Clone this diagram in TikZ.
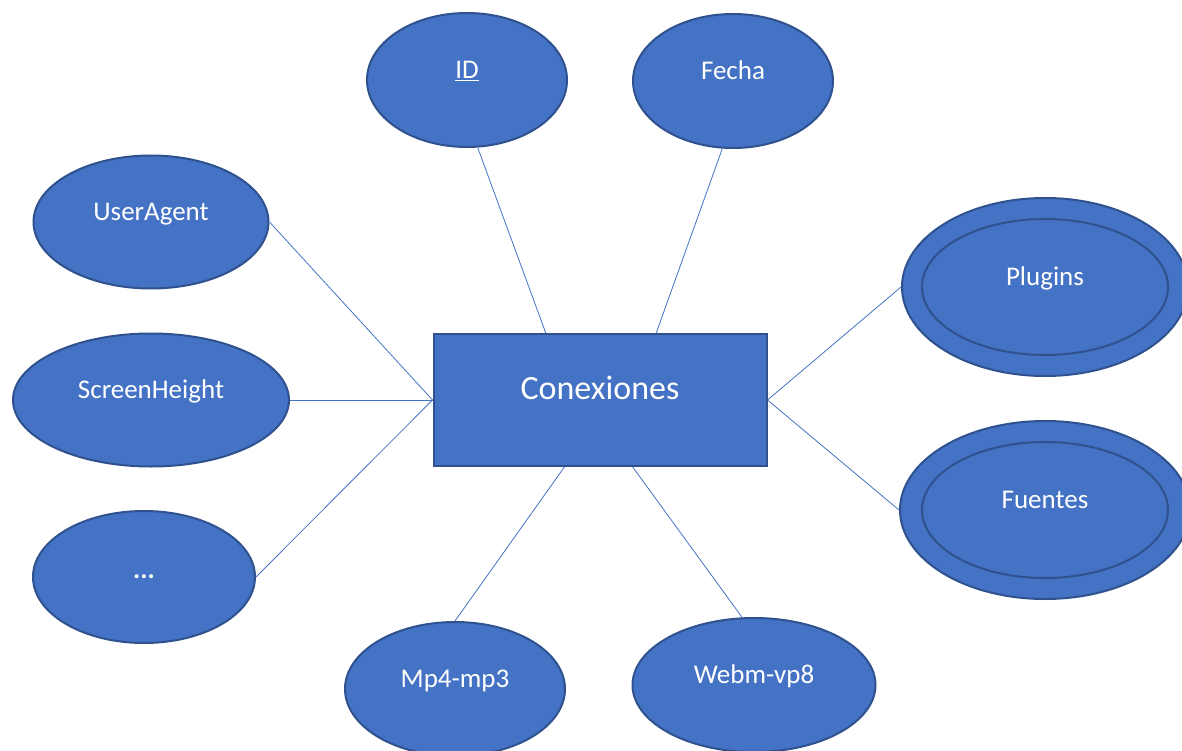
\documentclass[tikz,border=0pt]{standalone}
\usepackage{fontspec}
\setmainfont{Carlito}
\usetikzlibrary{shapes.geometric}
\definecolor{attrblue}{HTML}{4472C4}
\definecolor{attredge}{HTML}{2F528F}

\begin{document}
\begin{tikzpicture}[x=1pt,y=-1pt]
        \tikzstyle{entity}=[rectangle,draw=attredge,line width=2pt,fill=attrblue,minimum width=333pt,minimum height=132pt,inner sep=0pt]
        \tikzstyle{attr}=[ellipse,draw=attredge,line width=2pt,fill=attrblue,inner sep=0pt]
        \tikzstyle{multi}=[attr,path picture={\draw[attredge,line width=2pt] (path picture bounding box.center) ellipse (123pt and 68pt);}]
        \tikzstyle{txt}=[text=white,font=\fontsize{27}{32}\selectfont,text height=19pt,text depth=6pt,yshift=8pt]
        \tikzstyle{ctxt}=[text=white,font=\fontsize{34}{40}\selectfont,text height=24pt,text depth=8pt,yshift=9pt]
        \tikzstyle{link}=[draw=attrblue,line width=0.8pt]
        \useasboundingbox (0,0) rectangle (1182,751);
       \begin{scope}
         \node [entity,label={[ctxt]center:Conexiones}] (con) at (600,400) {};
         % simple attributes
         \node [attr,minimum width=200pt,minimum height=134pt,label={[txt]center:\underline{ID}}] (id) at (467,80) {};
         \node [attr,minimum width=200pt,minimum height=134pt,label={[txt]center:Fecha}] (fecha) at (733,81) {};
         \node [attr,minimum width=235pt,minimum height=133pt,label={[txt]center:UserAgent}] (agent) at (151,222) {};
         \node [attr,minimum width=276pt,minimum height=133pt,label={[txt]center:ScreenHeight}] (height) at (151,400) {};
         \node [attr,minimum width=222pt,minimum height=132pt,label={[txt,yshift=-3pt]center:\textbf{...}}] (more) at (144,577) {};
         \node [attr,minimum width=220pt,minimum height=134pt,label={[txt]center:Mp4-mp3}] (mp4) at (455,689) {};
         \node [attr,minimum width=243pt,minimum height=134pt,label={[txt]center:Webm-vp8}] (webm) at (754,685) {};
         % multivalued attributes
         \node [multi,minimum width=286pt,minimum height=178pt,label={[txt]center:Plugins}] (plugins) at (1045,287) {};
         \node [multi,minimum width=290pt,minimum height=178pt,label={[txt]center:Fuentes}] (fuentes) at (1045,510) {};
         \path[link] (id.-81) -- (con.129);
         \path[link] (fecha.-99) -- (con.50);
         \path[link] (agent.east) -- (con.west);
         \path[link] (height.east) -- (con.west);
         \path[link] (more.east) -- (con.west);
         \path[link] (mp4.north) -- (con.-118);
         \path[link] (webm.100) -- (con.-64);
         \path[link] (plugins.west) -- (con.east);
         \path[link] (fuentes.west) -- (con.east);
        \end{scope}
      \end{tikzpicture}
\end{document}
